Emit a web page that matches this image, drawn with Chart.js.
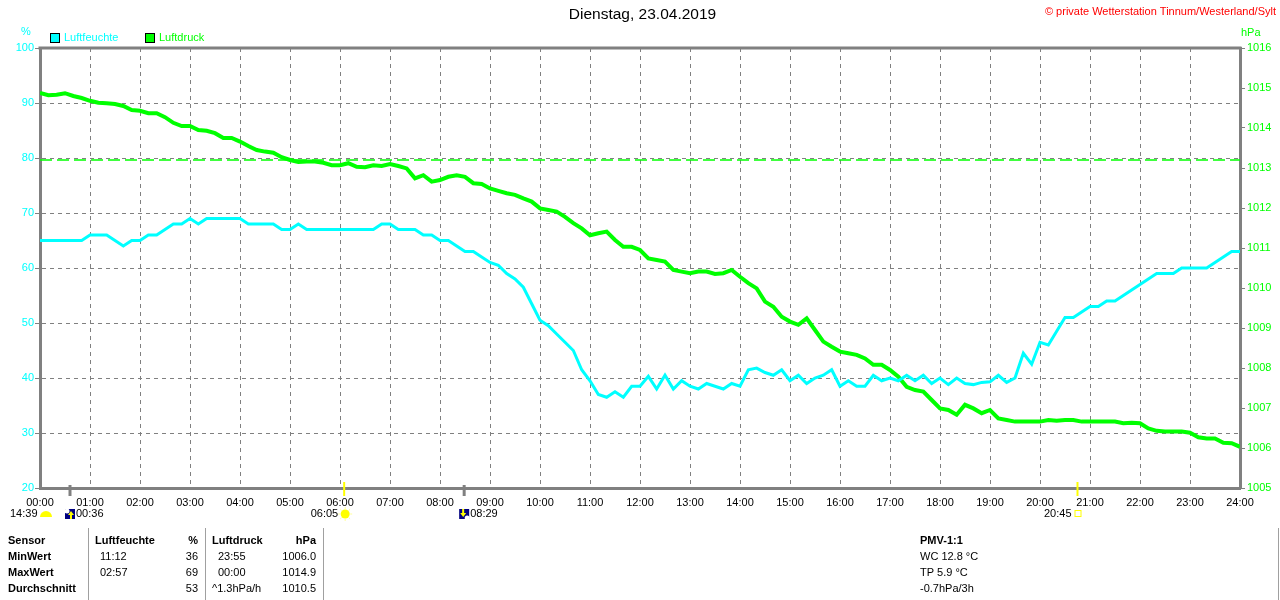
<!DOCTYPE html>
<html>
<head>
<meta charset="utf-8">
<script src="https://cdn.jsdelivr.net/npm/chart.js@4.4.0/dist/chart.umd.min.js"></script>
<style>
  html, body { margin: 0; padding: 0; background: #fff; }
  #c { display: block; }
</style>
</head>
<body>
<canvas id="c" width="1280" height="600"></canvas>
<script>
// ---------- DATA ----------
const titleText = 'Dienstag, 23.04.2019';
const copyrightText = '\u00A9 private Wetterstation Tinnum/Westerland/Sylt';
const seriesNames = ['Luftfeuchte', 'Luftdruck'];
const stepMinutes = 10; // samples every 10 minutes, 00:00 .. 24:00

// Luftfeuchte in %, 00:00 .. 24:00, every 10 min (12 per 2 hours)
const humidity = [
  65,65,65,65,65,65,66,66,66,65,64,65,
  65,66,66,67,68,68,69,68,69,69,69,69,
  69,68,68,68,68,67,67,68,67,67,67,67,
  67,67,67,67,67,68,68,67,67,67,66,66,
  65,65,64,63,63,62,61,60.5,59,58,56.5,53.5,
  50.5,49.5,48,46.5,45,41.5,39.5,37,36.5,37.5,36.5,38.5,
  38.5,40.3,38,40.5,38,39.5,38.5,38,39,38.5,38,39,
  38.5,41.5,41.8,41,40.5,41.5,39.5,40.5,39,40,40.5,41.5,
  38.5,39.5,38.5,38.5,40.5,39.5,40,39.5,40.5,39.5,40.5,39,
  40,38.8,40,39,38.8,39.2,39.3,40.5,39.2,40,44.5,42.5,
  46.5,46,48.5,51,51,52,53,53,54,54,55,56,
  57,58,59,59,59,60,60,60,60,61,62,63,
  63
];

// Luftdruck in hPa, 00:00 .. 24:00, every 10 min
const pressure = [
  1014.88,1014.82,1014.83,1014.87,1014.8,1014.75,1014.68,1014.63,1014.62,1014.6,1014.55,1014.45,
  1014.43,1014.37,1014.37,1014.27,1014.13,1014.05,1014.05,1013.95,1013.93,1013.87,1013.75,1013.75,
  1013.66,1013.55,1013.45,1013.41,1013.38,1013.27,1013.2,1013.15,1013.16,1013.16,1013.13,1013.07,
  1013.07,1013.12,1013.03,1013.02,1013.07,1013.05,1013.1,1013.05,1012.99,1012.74,1012.82,1012.66,
  1012.7,1012.78,1012.82,1012.78,1012.62,1012.6,1012.49,1012.43,1012.37,1012.33,1012.24,1012.16,
  1011.99,1011.95,1011.91,1011.78,1011.62,1011.49,1011.32,1011.37,1011.41,1011.2,1011.03,1011.03,
  1010.95,1010.74,1010.7,1010.66,1010.45,1010.41,1010.37,1010.41,1010.41,1010.35,1010.37,1010.45,
  1010.28,1010.12,1009.99,1009.66,1009.53,1009.28,1009.16,1009.08,1009.24,1008.95,1008.66,1008.53,
  1008.41,1008.37,1008.33,1008.24,1008.08,1008.08,1007.95,1007.78,1007.53,1007.45,1007.41,1007.2,
  1006.99,1006.95,1006.83,1007.08,1006.99,1006.87,1006.95,1006.74,1006.7,1006.66,1006.66,1006.66,
  1006.66,1006.7,1006.68,1006.7,1006.7,1006.66,1006.66,1006.66,1006.66,1006.66,1006.62,1006.63,
  1006.62,1006.49,1006.43,1006.41,1006.41,1006.41,1006.38,1006.27,1006.24,1006.24,1006.13,1006.12,
  1006.03
];

// reference line (standard pressure) on the hPa axis
const referencePressure = 1013.2;

// axis ranges / ticks
const humidityRange = [20, 100, 10];
const pressureRange = [1005, 1016, 1];
const timeRange = [0, 1440, 60];

// sun / moon events (minutes of day)
const eventTimes  = ['00:36', '06:05', '08:29', '20:45'];
const eventKinds  = ['moonrise', 'sunrise', 'moonset', 'sunset'];
const previousEvent = '14:39';

// statistics table
const tableHeader = ['Sensor', 'Luftfeuchte', '%', 'Luftdruck', 'hPa'];
const tableRowNames = ['MinWert', 'MaxWert', 'Durchschnitt'];
const humTimes = ['11:12', '02:57', ''];
const humValues = ['36', '69', '53'];
const presTimes = ['23:55', '00:00', '^1.3hPa/h'];
const presValues = ['1006.0', '1014.9', '1010.5'];
const pmvLines = ['PMV-1:1', 'WC 12.8 \u00B0C', 'TP 5.9 \u00B0C', '-0.7hPa/3h'];

// ---------- COLOURS ----------
const CYAN = '#00FFFF';
const GREEN = '#00FF00';
const GRID = '#808080';
const FONT = 'Liberation Sans, Arial, sans-serif';

// ---------- BUILD ----------
const toMin = s => { const p = s.split(':'); return (+p[0]) * 60 + (+p[1]); };
const humPts = humidity.map((v, i) => ({ x: i * stepMinutes, y: v }));
const presPts = pressure.map((v, i) => ({ x: i * stepMinutes, y: v }));
const refPts = [{ x: timeRange[0], y: referencePressure }, { x: timeRange[1], y: referencePressure }];

function txt(ctx, s, x, y, opt) {
  ctx.save();
  ctx.font = (opt.bold ? 'bold ' : '') + (opt.size || 11) + 'px ' + FONT;
  ctx.fillStyle = opt.color || '#000';
  ctx.textAlign = opt.align || 'left';
  ctx.textBaseline = 'middle';
  ctx.fillText(s, x, y);
  ctx.restore();
}

const overlay = {
  id: 'overlay',
  afterDraw(chart) {
    const ctx = chart.ctx;
    const a = chart.chartArea;
    const xs = chart.scales.x;

    // top border
    ctx.save();
    ctx.strokeStyle = GRID; ctx.lineWidth = 3;
    ctx.beginPath(); ctx.moveTo(a.left - 1.5, a.top); ctx.lineTo(a.right + 1.5, a.top); ctx.stroke();
    ctx.restore();

    // title & copyright
    txt(ctx, titleText, 642.5, 15, { size: 15.5, align: 'center' });
    txt(ctx, copyrightText, 1276, 12, { color: '#FF0000', align: 'right' });

    // units
    txt(ctx, '%', 26, 32, { color: CYAN, align: 'center' });
    txt(ctx, 'hPa', 1241, 33, { color: GREEN });

    // legend
    const leg = [[50, CYAN, seriesNames[0]], [145, GREEN, seriesNames[1]]];
    leg.forEach(([lx, col, name]) => {
      ctx.save();
      ctx.fillStyle = col; ctx.fillRect(lx, 33, 9, 9);
      ctx.strokeStyle = '#000'; ctx.lineWidth = 1; ctx.strokeRect(lx + 0.5, 33.5, 9, 9);
      ctx.restore();
      txt(ctx, name, lx + 14, 38, { color: col });
    });

    // events under the time axis
    const ey = 514;
    eventTimes.forEach((t, i) => {
      const px = xs.getPixelForValue(toMin(t));
      const kind = eventKinds[i];
      ctx.save();
      if (kind === 'moonrise' || kind === 'moonset') {
        ctx.strokeStyle = GRID; ctx.lineWidth = 3;
        ctx.beginPath(); ctx.moveTo(px, a.bottom - 3); ctx.lineTo(px, a.bottom + 8); ctx.stroke();
        // icon
        ctx.fillStyle = '#000080'; ctx.fillRect(px - 5, ey - 5, 10, 10);
        ctx.fillStyle = '#FFFFFF';
        ctx.beginPath();
        if (kind === 'moonrise') ctx.arc(px - 3, ey - 3, 2.5, 0, Math.PI * 2);
        else ctx.arc(px + 3, ey + 4, 2.5, 0, Math.PI * 2);
        ctx.fill();
        ctx.fillStyle = '#FFFF00';
        ctx.beginPath();
        if (kind === 'moonrise') {
          ctx.moveTo(px + 1, ey - 3); ctx.lineTo(px + 4, ey + 1); ctx.lineTo(px - 2, ey + 1); ctx.closePath(); ctx.fill();
          ctx.fillRect(px, ey, 2, 5);
        } else {
          ctx.moveTo(px - 1, ey + 3); ctx.lineTo(px + 2, ey - 1); ctx.lineTo(px - 4, ey - 1); ctx.closePath(); ctx.fill();
          ctx.fillRect(px - 2, ey - 5, 2, 5);
        }
        ctx.restore();
        txt(ctx, t, px + 6, ey, {});
      } else {
        ctx.strokeStyle = '#FFFF00'; ctx.lineWidth = 2;
        ctx.beginPath(); ctx.moveTo(px, a.bottom - 6); ctx.lineTo(px, a.bottom + 8); ctx.stroke();
        if (kind === 'sunrise') {
          ctx.strokeStyle = '#FFFF99'; ctx.lineWidth = 1;
          for (let k = 0; k < 8; k++) {
            const ang = k * Math.PI / 4;
            ctx.beginPath();
            ctx.moveTo(px + 1 + Math.cos(ang) * 5, ey + Math.sin(ang) * 5);
            ctx.lineTo(px + 1 + Math.cos(ang) * 7, ey + Math.sin(ang) * 7);
            ctx.stroke();
          }
          ctx.fillStyle = '#FFFF00';
          ctx.beginPath(); ctx.arc(px + 1, ey, 4.5, 0, Math.PI * 2); ctx.fill();
          ctx.restore();
          txt(ctx, t, px - 6, ey, { align: 'right' });
        } else {
          ctx.strokeStyle = '#FFFF00'; ctx.lineWidth = 1;
          ctx.strokeRect(px - 2.5, ey - 3.5, 6, 6);
          ctx.restore();
          txt(ctx, t, px - 6, ey, { align: 'right' });
        }
      }
    });
    // previous-day event at the left margin
    txt(ctx, previousEvent, 10, ey, {});
    ctx.save();
    ctx.fillStyle = '#FFFF00';
    ctx.beginPath(); ctx.arc(46, ey + 3, 6, Math.PI, 0); ctx.closePath(); ctx.fill();
    ctx.restore();

    // statistics table
    ctx.save();
    ctx.strokeStyle = '#A0A0A0'; ctx.lineWidth = 1;
    [88.5, 205.5, 323.5, 1278.5].forEach(lx => {
      ctx.beginPath(); ctx.moveTo(lx, 528); ctx.lineTo(lx, 600); ctx.stroke();
    });
    ctx.restore();
    const ry = [541, 557, 573, 589];
    txt(ctx, tableHeader[0], 8, ry[0], { bold: true });
    txt(ctx, tableHeader[1], 95, ry[0], { bold: true });
    txt(ctx, tableHeader[2], 198, ry[0], { bold: true, align: 'right' });
    txt(ctx, tableHeader[3], 212, ry[0], { bold: true });
    txt(ctx, tableHeader[4], 316, ry[0], { bold: true, align: 'right' });
    tableRowNames.forEach((n, i) => {
      const y = ry[i + 1];
      txt(ctx, n, 8, y, { bold: true });
      txt(ctx, humTimes[i], 100, y, {});
      txt(ctx, humValues[i], 198, y, { align: 'right' });
      txt(ctx, presTimes[i], presTimes[i].startsWith('^') ? 212 : 218, y, {});
      txt(ctx, presValues[i], 316, y, { align: 'right' });
    });
    pmvLines.forEach((s, i) => txt(ctx, s, 920, ry[i], { bold: i === 0 }));
  }
};

const pad2 = n => String(n).padStart(2, '0');

new Chart(document.getElementById('c'), {
  type: 'line',
  data: {
    datasets: [
      { label: seriesNames[0], data: humPts, yAxisID: 'y', borderColor: CYAN, borderWidth: 3, pointRadius: 0, tension: 0 },
      { label: seriesNames[1], data: presPts, yAxisID: 'y2', borderColor: GREEN, borderWidth: 4, pointRadius: 0, tension: 0 },
      { label: 'ref', data: refPts, yAxisID: 'y2', borderColor: GREEN, borderWidth: 1.5, borderDash: [12, 5], pointRadius: 0 }
    ]
  },
  options: {
    responsive: false,
    animation: false,
    events: [],
    layout: { padding: { top: 48, left: 0, right: 0, bottom: 0 } },
    plugins: { legend: { display: false }, title: { display: false }, tooltip: { enabled: false } },
    scales: {
      x: {
        type: 'linear', min: timeRange[0], max: timeRange[1],
        afterFit(s) { s.height = 112; },
        ticks: {
          stepSize: timeRange[2], autoSkip: false, maxRotation: 0, color: '#000', padding: 8,
          font: { family: FONT, size: 11 },
          callback: v => pad2(Math.round(v / 60)) + ':00'
        },
        grid: { color: GRID, lineWidth: 1, drawTicks: false },
        border: { color: GRID, width: 3, dash: [4, 4] }
      },
      y: {
        position: 'left', min: humidityRange[0], max: humidityRange[1],
        afterFit(s) { s.width = 40; },
        ticks: { stepSize: humidityRange[2], color: CYAN, padding: 1, font: { family: FONT, size: 11 },
                 callback: v => String(v) },
        grid: { color: GRID, lineWidth: 1, tickLength: 5, tickColor: GRID },
        border: { color: GRID, width: 3, dash: [4, 4] }
      },
      y2: {
        position: 'right', min: pressureRange[0], max: pressureRange[1],
        afterFit(s) { s.width = 40; },
        ticks: { stepSize: pressureRange[2], color: GREEN, padding: 2, font: { family: FONT, size: 11 },
                 callback: v => String(v) },
        grid: { drawOnChartArea: false, color: GRID, tickLength: 5, tickColor: GRID },
        border: { color: GRID, width: 3 }
      }
    }
  },
  plugins: [overlay]
});
</script>
</body>
</html>
